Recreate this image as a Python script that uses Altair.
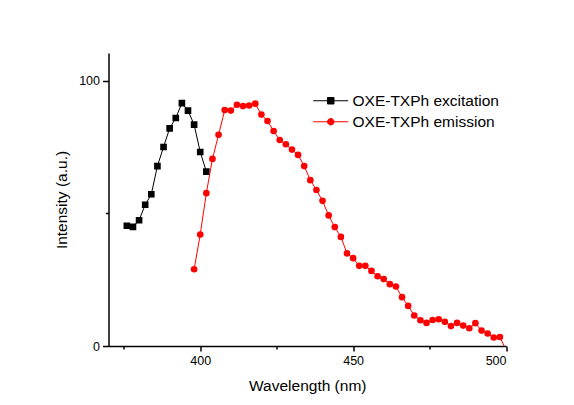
import altair as alt
import pandas as pd

# ---- data ----
exc_wl = [376, 378, 380, 382, 384, 386, 388, 390, 392, 394, 396, 398, 400, 402]
exc_int = [45.3, 44.9, 47.4, 53.2, 57.2, 67.8, 75.0, 82.0, 85.9, 91.5, 88.7, 83.4, 73.1, 65.7]

em_wl = list(range(398, 502, 2))
em_int = [28.9, 42.0, 57.6, 70.5, 79.6, 88.9, 88.7, 90.9, 90.4, 90.6,
          91.3, 87.2, 84.8, 81.0, 77.6, 76.0, 74.0, 72.0, 67.8, 62.5,
          58.8, 54.7, 49.2, 44.8, 41.1, 34.9, 33.1, 30.2, 30.2, 28.3,
          26.3, 25.2, 23.3, 22.4, 18.4, 15.1, 11.5, 9.7, 8.7, 9.8,
          10.1, 9.1, 7.5, 8.7, 7.7, 6.7, 8.6, 5.8, 4.7, 3.2,
          3.4, -1.5]

series_names = ["OXE-TXPh excitation", "OXE-TXPh emission"]
series_colors = ["#000000", "#FF0000"]
x_ticks = [375, 400, 425, 450, 475, 500]
y_ticks = [0, 50, 100]

exc_df = pd.DataFrame({"wl": exc_wl, "val": exc_int, "series": series_names[0]})
em_df = pd.DataFrame({"wl": em_wl, "val": em_int, "series": series_names[1]})
all_df = pd.concat([exc_df, em_df], ignore_index=True)

FONT = "Liberation Sans"

x_enc = alt.X("wl:Q",
              scale=alt.Scale(domain=[370, 500], nice=False, zero=False),
              axis=alt.Axis(values=x_ticks, grid=False, title="Wavelength (nm)",
                            labelExpr="datum.value % 50 == 0 ? datum.label : ''",
                            tickSize={"condition": {"test": "datum.value % 50 != 0", "value": 3}, "value": 5},
                            labelPadding=3, titlePadding=12))
y_enc = alt.Y("val:Q",
              scale=alt.Scale(domain=[0, 110.4], nice=False),
              axis=alt.Axis(values=y_ticks, grid=False, title="Intensity (a.u.)",
                            labelExpr="datum.value % 100 == 0 ? datum.label : ''",
                            tickSize={"condition": {"test": "datum.value % 100 != 0", "value": 3}, "value": 6},
                            labelPadding=3, titlePadding=9))

exc_line = alt.Chart(exc_df).mark_line(color=series_colors[0], strokeWidth=1, clip=True).encode(x=x_enc, y=y_enc)
exc_pts = alt.Chart(exc_df).mark_point(shape="square", filled=True, size=44, opacity=1,
                                       color=series_colors[0], clip=True).encode(x="wl:Q", y="val:Q")
em_line = alt.Chart(em_df).mark_line(color=series_colors[1], strokeWidth=1, clip=True).encode(x="wl:Q", y="val:Q")
em_pts = alt.Chart(em_df).mark_point(shape="circle", filled=True, size=44, opacity=1,
                                     color=series_colors[1], clip=True).encode(x="wl:Q", y="val:Q")

sq_path = "M-5.4,0H5.4M-1,-1H1V1H-1Z"
ci_path = "M-5.4,0H5.4M-1,0A1,1,0,1,0,1,0A1,1,0,1,0,-1,0Z"

legend = alt.Legend(title=None, orient="none", legendX=214.5, legendY=40,
                    labelFont=FONT, labelFontSize=15.5, labelColor="#000000",
                    labelOffset=14, symbolSize=42, symbolStrokeWidth=1,
                    rowPadding=4, padding=0)

leg_layer = alt.Chart(all_df).transform_filter("false").mark_point(filled=True, opacity=1, size=42).encode(
    x="wl:Q", y="val:Q",
    fill=alt.Fill("series:N", scale=alt.Scale(domain=series_names, range=series_colors), legend=legend),
    stroke=alt.Stroke("series:N", scale=alt.Scale(domain=series_names, range=series_colors), legend=legend),
    shape=alt.Shape("series:N", scale=alt.Scale(domain=series_names, range=[sq_path, ci_path]), legend=legend),
)

chart = alt.layer(exc_line, exc_pts, em_line, em_pts, leg_layer).properties(
    width=397.5, height=293,
    autosize=alt.AutoSizeParams(type="none"),
    padding={"left": 100.5, "top": 45, "right": 60, "bottom": 51},
    background="#FFFFFF",
).configure_view(stroke="transparent").configure_axis(
    domainColor="#000000", domainWidth=1.5, tickColor="#000000", tickWidth=1.5,
    labelFont=FONT, labelFontSize=12.5, labelColor="#000000",
    titleFont=FONT, titleFontSize=15.5, titleFontWeight="normal", titleColor="#000000",
)

chart.save("out.html", embed_options={"renderer": "svg", "actions": False})
